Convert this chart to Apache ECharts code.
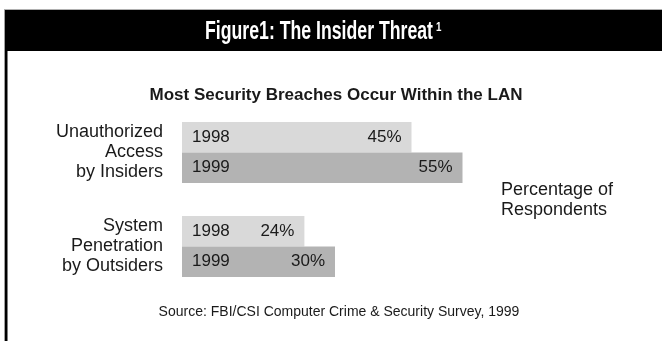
<!DOCTYPE html>
<html>
<head>
<meta charset="utf-8">
<script src="https://cdn.jsdelivr.net/npm/echarts@6/dist/echarts.min.js"></script>
<style>
  html, body { margin: 0; padding: 0; background: #fff; }
  #chart-container { width: 662px; height: 341px; }
</style>
</head>
<body>
<div id="chart-container"></div>
<script>
// Chart data
const categories = ['Unauthorized\nAccess\nby Insiders', 'System\nPenetration\nby Outsiders'];
const years = ['1998', '1999'];
const values1998 = [45, 24];
const values1999 = [55, 30];

const textColor = '#1a1a1a';
const font = "'Liberation Sans', Arial, sans-serif";
const barColors = ['#d9d9d9', '#b3b3b3'];

const chart = echarts.init(document.getElementById('chart-container'));

// one visible bar series per year, value label at the bar end
function valueSeries(i, data) {
  return {
    name: years[i],
    type: 'bar',
    data: data,
    barGap: '0%',
    barCategoryGap: '35%',
    itemStyle: { color: barColors[i] },
    label: {
      show: true,
      position: 'insideRight',
      distance: 10,
      formatter: '{c}%',
      color: textColor,
      fontSize: 17,
      fontFamily: font
    },
    z: 2
  };
}

// transparent copy on a twin axis, only to carry the year label at the bar start
function yearSeries(i, data) {
  return {
    name: years[i] + ' label',
    type: 'bar',
    yAxisIndex: 1,
    data: data,
    barGap: '0%',
    barCategoryGap: '35%',
    silent: true,
    itemStyle: { color: 'rgba(0,0,0,0)' },
    label: {
      show: true,
      position: 'insideLeft',
      distance: 10,
      formatter: years[i],
      color: textColor,
      fontSize: 17,
      fontFamily: font
    },
    z: 3
  };
}

chart.setOption({
  backgroundColor: '#fff',
  animation: false,
  title: [
    {
      text: 'Most Security Breaches Occur Within the LAN',
      left: 331,
      top: 90,
      textAlign: 'center',
      textVerticalAlign: 'middle',
      textStyle: { color: textColor, fontSize: 17, fontWeight: 'bold', fontFamily: font }
    },
    {
      text: 'Source: FBI/CSI Computer Crime & Security Survey, 1999',
      left: 334,
      top: 307,
      textAlign: 'center',
      textVerticalAlign: 'middle',
      textStyle: { color: textColor, fontSize: 14, fontWeight: 'normal', fontFamily: font }
    }
  ],
  grid: {
    left: 182,
    right: 21,
    top: 105.5,
    height: 188,
    containLabel: false
  },
  xAxis: {
    type: 'value',
    min: 0,
    max: 90,
    show: false
  },
  yAxis: [
    {
      type: 'category',
      inverse: true,
      data: categories,
      axisLine: { show: false },
      axisTick: { show: false },
      axisLabel: {
        margin: 19,
        align: 'right',
        color: textColor,
        fontSize: 18,
        lineHeight: 20,
        padding: [4, 0, 0, 0],
        fontFamily: font
      }
    },
    {
      type: 'category',
      inverse: true,
      data: categories,
      show: false
    }
  ],
  series: [
    valueSeries(0, values1998),
    valueSeries(1, values1999),
    yearSeries(0, values1998),
    yearSeries(1, values1999)
  ],
  graphic: [
    { type: 'rect', shape: { x: 4, y: 9, width: 658, height: 1 }, style: { fill: '#b0b0b0' }, silent: true },
    { type: 'rect', shape: { x: 4, y: 10, width: 658, height: 41 }, style: { fill: '#000' }, silent: true, z: -1 },
    { type: 'rect', shape: { x: 4, y: 10, width: 1, height: 331 }, style: { fill: '#a0a0a0' }, silent: true },
    { type: 'rect', shape: { x: 5, y: 10, width: 2.5, height: 331 }, style: { fill: '#000' }, silent: true },
    // condensed bold heading: regular bold face squeezed horizontally
    {
      type: 'text',
      x: 319,
      y: 32,
      scaleX: 0.68,
      silent: true,
      style: {
        text: 'Figure1: The Insider Threat',
        textAlign: 'center',
        textVerticalAlign: 'middle',
        fill: '#fff',
        fontSize: 26,
        fontWeight: 'bold',
        fontFamily: font
      }
    },
    {
      type: 'text',
      x: 436,
      y: 27,
      scaleX: 0.75,
      silent: true,
      style: {
        text: '1',
        textAlign: 'left',
        textVerticalAlign: 'middle',
        fill: '#fff',
        fontSize: 13,
        fontWeight: 'bold',
        fontFamily: font
      }
    },
    {
      type: 'text',
      left: 501,
      top: 180,
      style: {
        text: 'Percentage of\nRespondents',
        fill: textColor,
        fontSize: 18,
        lineHeight: 20,
        fontFamily: font
      }
    }
  ]
});
</script>
</body>
</html>
